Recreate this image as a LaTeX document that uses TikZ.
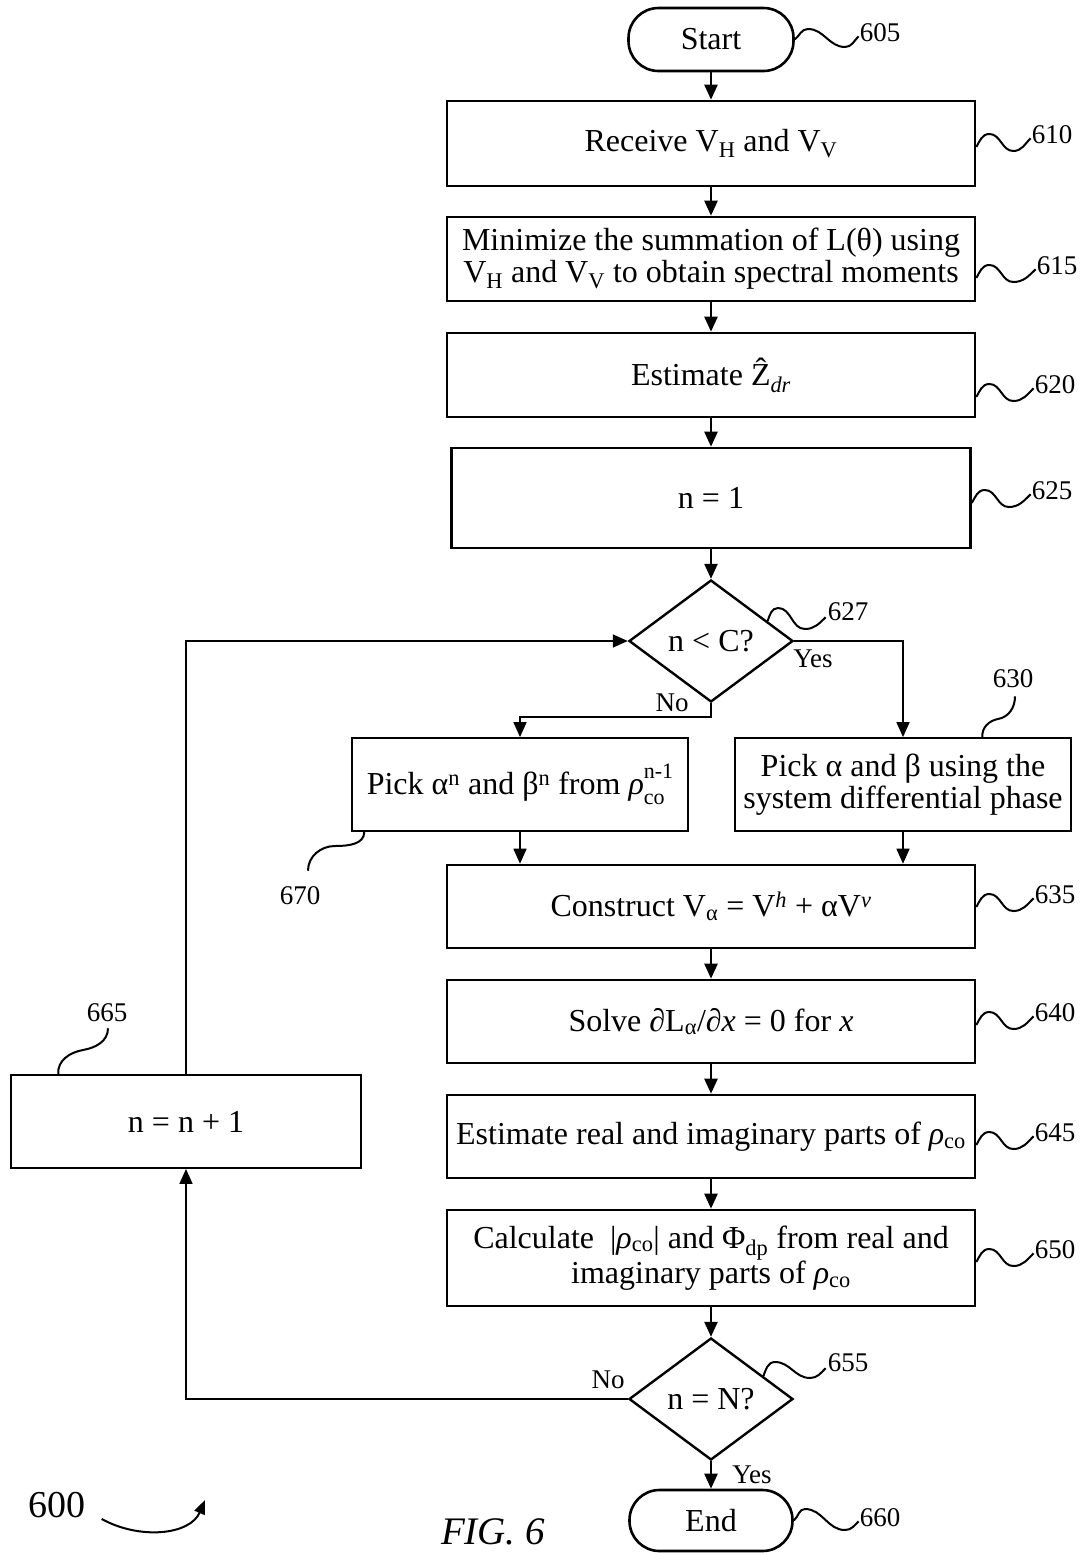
\documentclass[tikz,border=0pt]{standalone}
\usepackage{fontspec}
\setmainfont{Liberation Serif}
\usetikzlibrary{shapes.geometric,arrows.meta,calc}
\newcommand{\rhoco}{\textit{ρ}\textsubscript{co}}
\newcommand{\rsquig}[2]{\draw[lead] ($(#1.east |- #2.west)+(0,12)$) to[out=60,in=180] ++(13,-13) to[out=0,in=180] ++(24,17) to[out=0,in=225] ($(#2.south west)+(-1,-6)$);}
\begin{document}
\begin{tikzpicture}[x=1pt,y=-1pt,
  every node/.style={inner sep=0pt},
  txt/.style={font=\fontsize{32}{32}\selectfont},
  box/.style={draw, line width=2.6pt, rectangle, align=center, txt},
  thinbox/.style={box, line width=1.8pt},
  term/.style={draw, line width=2.6pt, rectangle, rounded corners=30pt, txt},
  dec/.style={draw, line width=2.4pt, diamond, aspect=1.34, txt},
  flow/.style={line width=2.4pt, -{Triangle[length=15pt,width=13pt]}},
  branch/.style={line width=1.6pt, -{Triangle[length=15pt,width=13pt]}},
  lead/.style={line width=2pt},
  num/.style={font=\fontsize{27}{27}\selectfont},
  yn/.style={font=\fontsize{27}{27}\selectfont}
]
\useasboundingbox (0,0) rectangle (1083,1553);

% nodes
\node[term, minimum width=165pt, minimum height=63pt] (start) at (711,39.5) {Start};
\node[box, minimum width=528pt, minimum height=85pt] (b610) at (711,143.5) {Receive V\textsubscript{H} and V\textsubscript{V}};
\node[box, minimum width=528pt, minimum height=84pt] (b615) at (711,259) {Minimize the summation of L(θ) using\\V\textsubscript{H} and V\textsubscript{V} to obtain spectral moments};
\node[box, minimum width=528pt, minimum height=84pt] (b620) at (711,375) {Estimate \^{Z}\textsubscript{\textit{dr}}};
\node[box, minimum width=519pt, minimum height=100pt] (b625) at (711,498) {n = 1};
\node[dec, minimum width=164pt, minimum height=122pt] (d627) at (711,641) {n < C?};
\node[thinbox, minimum width=336pt, minimum height=93pt] (b670) at (520,784.5) {Pick α\textsuperscript{n} and β\textsuperscript{n} from \textit{ρ}\raisebox{-0.32em}{\makebox[0pt][l]{\fontsize{22}{22}\selectfont co}}\raisebox{0.5em}{\fontsize{22}{22}\selectfont n-1}};
\node[thinbox, minimum width=336pt, minimum height=93pt] (b630) at (903,784.5) {Pick α and β using the\\system differential phase};
\node[box, minimum width=528pt, minimum height=83pt] (b635) at (711,906.5) {Construct V\textsubscript{α} = V\textsuperscript{\textit{h}} + αV\textsuperscript{\textit{v}}};
\node[box, minimum width=528pt, minimum height=83pt] (b640) at (711,1021.5) {Solve ∂L\textsubscript{α}/∂\textit{x} = 0 for \textit{x}};
\node[box, minimum width=528pt, minimum height=83pt] (b645) at (711,1136.5) {Estimate real and imaginary parts of \rhoco};
\node[box, minimum width=528pt, minimum height=96pt] (b650) at (711,1258) {Calculate \ |\rhoco| and Φ\textsubscript{dp} from real and\\imaginary parts of \rhoco};
\node[dec, minimum width=164pt, minimum height=122pt] (d655) at (711,1399) {n = N?};
\node[term, minimum width=163pt, minimum height=61pt] (end) at (711,1520.5) {End};
\node[thinbox, minimum width=350pt, minimum height=93pt] (b665) at (186,1121.5) {n = n + 1};

% connectors
\draw[flow] (start) -- (b610);
\draw[flow] (b610) -- (b615);
\draw[flow] (b615) -- (b620);
\draw[flow] (b620) -- (b625);
\draw[flow] (b625) -- (d627);
\draw[branch] (d627.east) -| (b630.north);
\draw[branch] (d627.south) -- ++(0,14) -| (b670.north);
\draw[branch] (b670.south) -- (b670.south |- b635.north);
\draw[branch] (b630.south) -- (b630.south |- b635.north);
\draw[flow] (b635) -- (b640);
\draw[flow] (b640) -- (b645);
\draw[flow] (b645) -- (b650);
\draw[flow] (b650) -- (d655);
\draw[flow] (d655) -- (end);
\draw[branch] (d655.west) -| (b665.south);
\draw[branch] (b665.north) |- (d627.west);

% yes/no labels
\node[yn] (y627) at (813,659) {Yes};
\node[yn] (n627) at (672,703) {No};
\node[yn] (n655) at (608,1380) {No};
\node[yn] (y655) at (752,1475) {Yes};

% reference numerals
\node[num] (l605) at (880,33) {605};
\node[num] (l610) at (1052,135) {610};
\node[num] (l615) at (1057,266) {615};
\node[num] (l620) at (1055,385) {620};
\node[num] (l625) at (1052,491) {625};
\node[num] (l627) at (848,612) {627};
\node[num] (l630) at (1013,679) {630};
\node[num] (l635) at (1055,895) {635};
\node[num] (l640) at (1055,1013) {640};
\node[num] (l645) at (1055,1133) {645};
\node[num] (l650) at (1055,1250) {650};
\node[num] (l655) at (848,1363) {655};
\node[num] (l660) at (880,1518) {660};
\node[num] (l665) at (107,1013) {665};
\node[num] (l670) at (300,896) {670};

\rsquig{b610}{l610}
\rsquig{b615}{l615}
\rsquig{b620}{l620}
\rsquig{b625}{l625}
\rsquig{b635}{l635}
\rsquig{b640}{l640}
\rsquig{b645}{l645}
\rsquig{b650}{l650}

\draw[lead] (start.east) to[out=40,in=180] (808,29) to[out=0,in=180] (845,47) to[out=0,in=225] ($(l605.south west)+(-1,-6)$);
\draw[lead] (end.east) to[out=40,in=180] (805,1509) to[out=0,in=180] (845,1530) to[out=0,in=225] ($(l660.south west)+(-1,-6)$);
\draw[lead] ($(d627.north)!0.68!(d627.east)$) to[out=70,in=180] (778,608) to[out=0,in=180] (805,629) to[out=0,in=225] ($(l627.south west)+(-2,-4)$);
\draw[lead] ($(d655.north)!0.63!(d655.east)$) to[out=70,in=180] (775,1362) to[out=0,in=180] (810,1378) to[out=0,in=225] ($(l655.south west)+(-2,-4)$);
\draw[lead] ($(b630.north west)!0.735!(b630.north east)$) to[out=95,in=190] (998,719) to[out=10,in=-90] ($(l630.south)+(2,8)$);
\draw[lead] ($(b665.north west)!0.137!(b665.north east)$) to[out=95,in=190] (83,1050) to[out=10,in=-90] ($(l665.south)+(1,6)$);
\draw[lead] ($(b670.south west)!0.039!(b670.south east)$) to[out=-90,in=0] (335,846) to[out=180,in=90] ($(l670.north)+(8,-16)$);

% figure label
\node[font=\fontsize{38}{38}\selectfont] (l600) at (57,1505) {600};
\draw[lead, -{Triangle[length=14pt,width=11pt]}] ($(l600.east)+(16,14)$) .. controls (140,1540) and (190,1535) .. (205,1500);
\node[font=\fontsize{39}{39}\selectfont\itshape] (fig) at (493,1532) {FIG. 6};
\end{tikzpicture}
\end{document}
